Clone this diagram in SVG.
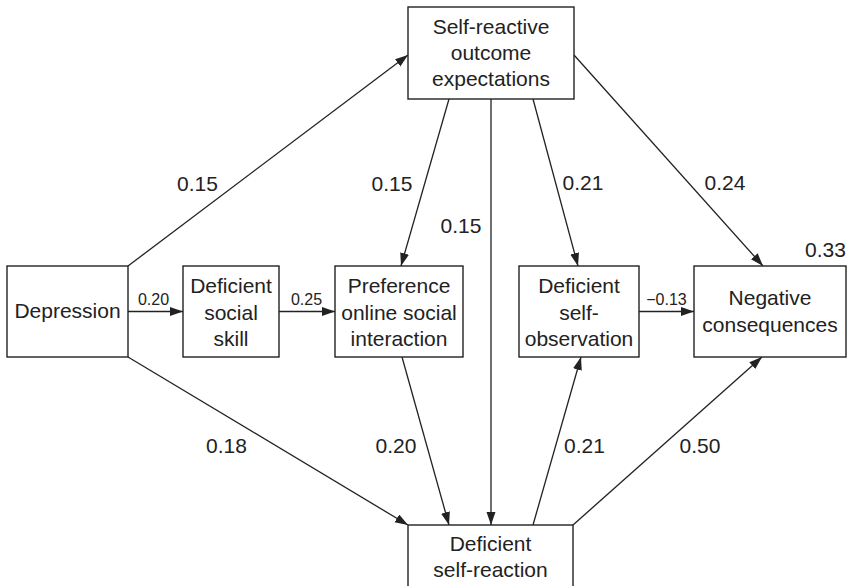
<svg xmlns="http://www.w3.org/2000/svg" width="849" height="586" viewBox="0 0 849 586">
<defs>
<style>
.box{fill:#fff;stroke:#222;stroke-width:1.4}
.t{font-family:"Liberation Sans",Arial,sans-serif;font-size:21px;fill:#222;text-anchor:middle}
.s{font-family:"Liberation Sans",Arial,sans-serif;font-size:16px;fill:#222;text-anchor:middle}
.c{stroke:#222;stroke-width:1.3;fill:none;marker-end:url(#ah)}
.n{stroke:#222;stroke-width:1.3;fill:none}
</style>
<marker id="ah" markerUnits="userSpaceOnUse" markerWidth="14" markerHeight="10" refX="13" refY="4.5" orient="auto">
<path d="M0,0 L13,4.5 L0,9 Z" fill="#222"/>
</marker>
</defs>
<rect width="849" height="586" fill="#fff"/>
<g id="connectors">
<line class="c" x1="128" y1="266" x2="408" y2="55"/>
<line class="c" x1="128" y1="357" x2="408" y2="525"/>
<line class="c" x1="128" y1="311.5" x2="183" y2="311.5"/>
<line class="c" x1="279" y1="311.5" x2="335" y2="311.5"/>
<line class="c" x1="449" y1="99" x2="401" y2="266"/>
<line class="c" x1="491" y1="99" x2="491" y2="525"/>
<line class="c" x1="533" y1="99" x2="578" y2="266"/>
<line class="c" x1="574" y1="55" x2="763" y2="266"/>
<line class="c" x1="402" y1="357" x2="449" y2="525"/>
<line class="c" x1="533" y1="525" x2="581" y2="357"/>
<line class="c" x1="573" y1="525" x2="762" y2="357"/>
<line class="c" x1="639" y1="311.5" x2="694" y2="311.5"/>
<text class="t" x="197.5" y="191">0.15</text>
<text class="t" x="392" y="191">0.15</text>
<text class="t" x="461" y="233">0.15</text>
<text class="t" x="583" y="190">0.21</text>
<text class="t" x="725" y="190">0.24</text>
<text class="t" x="825.5" y="257">0.33</text>
<text class="s" x="153.5" y="305">0.20</text>
<text class="s" x="306.5" y="305">0.25</text>
<text class="s" x="666.5" y="305">−0.13</text>
<text class="t" x="226.5" y="453">0.18</text>
<text class="t" x="396" y="453">0.20</text>
<text class="t" x="584.5" y="453">0.21</text>
<text class="t" x="700" y="453">0.50</text>
</g>
<g id="self-reactive">
<rect class="box" x="408" y="7" width="166" height="92"/>
<text class="t" x="491" y="34">Self-reactive</text>
<text class="t" x="491" y="60">outcome</text>
<text class="t" x="491" y="86">expectations</text>
</g>
<g id="depression">
<rect class="box" x="7" y="266" width="121" height="91"/>
<text class="t" x="67.5" y="318">Depression</text>
</g>
<g id="social-skill">
<rect class="box" x="183" y="266" width="96" height="91"/>
<text class="t" x="231" y="293">Deficient</text>
<text class="t" x="231" y="320">social</text>
<text class="t" x="231" y="346">skill</text>
</g>
<g id="preference">
<rect class="box" x="335" y="266" width="128" height="91"/>
<text class="t" x="399" y="293">Preference</text>
<text class="t" x="399" y="320">online social</text>
<text class="t" x="399" y="346">interaction</text>
</g>
<g id="self-observation">
<rect class="box" x="519" y="266" width="120" height="91"/>
<text class="t" x="579" y="293">Deficient</text>
<text class="t" x="579" y="320">self-</text>
<text class="t" x="579" y="346">observation</text>
</g>
<g id="negative">
<rect class="box" x="694" y="266" width="152" height="91"/>
<text class="t" x="770" y="305">Negative</text>
<text class="t" x="770" y="332">consequences</text>
</g>
<g id="self-reaction">
<rect class="box" x="408" y="525" width="165" height="80"/>
<text class="t" x="490.5" y="551">Deficient</text>
<text class="t" x="490.5" y="577">self-reaction</text>
</g>
</svg>
